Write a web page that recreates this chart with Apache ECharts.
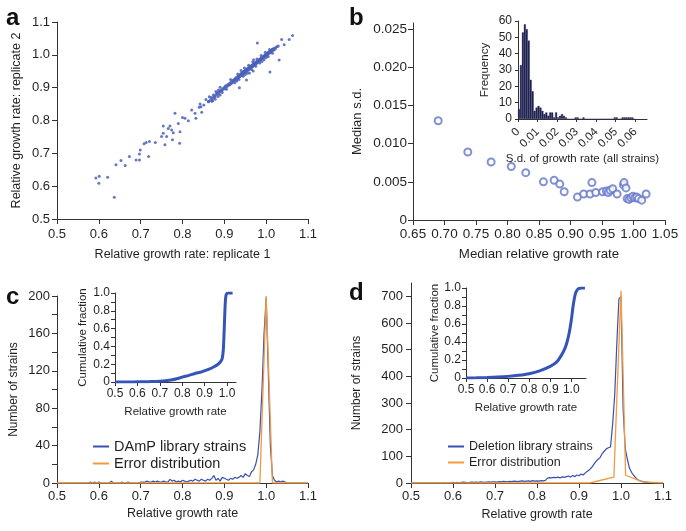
<!DOCTYPE html>
<html><head><meta charset="utf-8">
<script src="https://cdn.jsdelivr.net/npm/echarts@6/dist/echarts.min.js"></script>
<style>html,body{margin:0;padding:0;background:#fff}#c{width:686px;height:531px}</style>
</head><body><div id="c"></div>
<script>
// ---------- Panel a: replicate scatter ----------
const scatterA = [
[0.593,0.625],[0.601,0.630],[0.600,0.609],[0.621,0.627],[0.637,0.566],[0.641,0.665],[0.653,0.678],[0.663,0.663],
[0.673,0.690],[0.689,0.680],[0.697,0.680],[0.697,0.698],[0.699,0.710],[0.708,0.729],[0.713,0.733],[0.719,0.690],
[0.721,0.736],[0.735,0.733],[0.750,0.751],[0.754,0.761],[0.754,0.783],[0.758,0.726],[0.762,0.751],[0.766,0.776],
[0.770,0.783],[0.774,0.771],[0.776,0.741],[0.778,0.763],[0.782,0.822],[0.790,0.791],[0.793,0.731],[0.794,0.766],
[0.800,0.809],[0.806,0.807],[0.814,0.799],[0.822,0.832],[0.830,0.822],[0.832,0.807],[0.840,0.840],[0.842,0.850],
[0.844,0.842],[0.846,0.825],[0.851,0.847],[0.856,0.864],[0.862,0.857],[0.864,0.872],[0.870,0.859],[0.874,0.878],
[0.880,0.888],[0.886,0.893],[0.890,0.901],
[0.936,0.900],[0.953,0.923],[0.979,1.036],[1.009,0.948],[1.031,0.984],[1.037,1.047],[1.043,1.031],[1.055,1.047],
[1.063,1.059],[0.969,0.951],[0.957,0.955],
[0.862,0.858],[0.866,0.862],[0.868,0.870],[0.871,0.866],[0.873,0.869],[0.876,0.874],[0.878,0.872],[0.880,0.879],
[0.882,0.884],[0.884,0.880],[0.886,0.887],[0.888,0.885],[0.890,0.889],[0.892,0.893],[0.894,0.890],[0.896,0.897],
[0.898,0.895],[0.900,0.901],[0.902,0.898],[0.903,0.906],[0.905,0.903],[0.907,0.905],[0.908,0.910],[0.910,0.907],
[0.912,0.913],[0.913,0.909],[0.915,0.916],[0.916,0.912],[0.918,0.919],[0.919,0.915],[0.920,0.922],[0.922,0.918],
[0.923,0.925],[0.924,0.921],[0.926,0.927],[0.927,0.923],[0.928,0.931],[0.929,0.926],[0.931,0.929],[0.932,0.934],
[0.933,0.930],[0.934,0.936],[0.935,0.932],[0.936,0.938],[0.937,0.934],[0.938,0.940],[0.939,0.936],[0.940,0.943],
[0.941,0.938],[0.942,0.945],[0.943,0.940],[0.944,0.947],[0.945,0.942],[0.946,0.949],[0.947,0.944],[0.948,0.951],
[0.949,0.946],[0.950,0.953],[0.951,0.948],[0.952,0.955],[0.953,0.950],[0.954,0.957],[0.955,0.952],[0.956,0.959],
[0.957,0.954],[0.958,0.961],[0.959,0.956],[0.960,0.962],[0.961,0.958],[0.962,0.965],[0.963,0.960],[0.964,0.966],
[0.965,0.962],[0.966,0.968],[0.967,0.964],[0.968,0.970],[0.969,0.966],[0.970,0.972],[0.971,0.968],[0.972,0.974],
[0.973,0.970],[0.974,0.977],[0.975,0.972],[0.976,0.978],[0.977,0.974],[0.978,0.980],[0.979,0.976],[0.980,0.982],
[0.981,0.979],[0.982,0.984],[0.983,0.981],[0.984,0.986],[0.985,0.983],[0.986,0.988],[0.987,0.985],[0.988,0.990],
[0.989,0.987],[0.990,0.992],[0.991,0.989],[0.992,0.994],[0.993,0.991],[0.994,0.996],[0.995,0.993],[0.996,0.998],
[0.997,0.995],[0.998,1.000],[0.999,0.997],[1.000,1.002],[1.001,0.999],[1.002,1.004],[1.003,1.001],[1.004,1.006],
[1.005,1.003],[1.006,1.008],[1.007,1.005],[1.008,1.010],[1.009,1.007],[1.010,1.012],[1.011,1.009],[1.012,1.014],
[1.013,1.011],[1.014,1.016],[1.015,1.013],[1.016,1.018],[1.018,1.015],[1.019,1.020],[1.021,1.017],[1.023,1.022],
[1.026,1.025],[1.029,1.027],
[0.925,0.915],[0.932,0.942],[0.945,0.935],[0.948,0.960],[0.955,0.944],[0.958,0.968],[0.965,0.955],[0.968,0.978],
[0.975,0.965],[0.978,0.987],[0.985,0.975],[0.988,0.998],[0.995,0.985],[0.998,1.008],[1.005,0.995],[1.008,1.016],
[1.015,1.005],[0.960,0.945],[0.970,0.985],[0.990,0.980],[1.000,0.992],[0.930,0.920],[0.940,0.952],[0.950,0.940],
[0.935,0.925],[0.905,0.895],[0.915,0.925],[0.895,0.885],[0.885,0.873],[0.872,0.860],[0.878,0.865],[0.890,0.878]
];

// ---------- Panel b: median s.d. vs median growth ----------
const medianGrowth = [0.690,0.737,0.774,0.806,0.829,0.857,0.874,0.883,0.890,0.911,0.921,0.931,0.934,0.940,0.951,0.957,0.960,0.963,0.967,0.974,0.984,0.985,0.988,0.990,0.993,0.996,0.999,1.002,1.005,1.008,1.013,1.020];
const medianSD     = [0.0130,0.0089,0.0076,0.0070,0.0062,0.0050,0.0052,0.0047,0.0037,0.0030,0.0034,0.0034,0.0049,0.0036,0.0037,0.0038,0.0036,0.0039,0.0041,0.0034,0.0046,0.0049,0.0042,0.0028,0.0027,0.0029,0.0031,0.0029,0.0030,0.0028,0.0026,0.0034];

// inset histogram (bins of width 0.001 starting at 0)
const sdBinStart = 0, sdBinWidth = 0.001;
const sdFreq = [6,33,53,58,55,48,24,17,5,7,8,7,5, 3,4,2,4,4,1,4,1,2,3,2,1, 0,0,0,0, 1,1,0,0,1,0, 0,0,0,0,0,0,0,0,0,0,0,0,0,0, 1,1,0,0, 1,1,1,1,1,1, 0];
const sdTicks = [0,0.01,0.02,0.03,0.04,0.05,0.06];

// ---------- Panel c: DAmP library ----------
const histBinStart = 0.5, histBinWidth = 0.005;
const dampCounts = [
0,0,0,0,0,0,0,0,0,0,0,0,0,0,0, 0,1,0,1,0, 1,0,0,0,0,0,2,0,0,0, 0,1,0,0,1,0,0,0,0,0,
1,1,1,2,1,1,2,1,2,1, 1,2,1,1,4,2,3,1,2,1, 3,2,1,2,3,2,4,3,2,4, 3,2,4,3,5,8,3,5,2,6,
5,4,3,5,4,6,5,6,8,6, 10,8,7,12,14,20,30,55,100,160, 198,120,40,8,3,1,2,1,2,1, 0,0,0,0,0,0,0,0,0,0, 0
];
const errorC = [[0.5,0],[0.985,0],[1.0,200],[1.015,0],[1.1,0]];
const cumC = [[0.5,0],[0.55,0],[0.6,0.002],[0.65,0.004],[0.7,0.008],[0.75,0.022],[0.78,0.04],[0.8,0.055],[0.83,0.075],[0.86,0.098],[0.88,0.11],[0.9,0.127],[0.92,0.145],[0.94,0.168],[0.96,0.2],[0.97,0.225],[0.978,0.26],[0.983,0.35],[0.986,0.5],[0.989,0.7],[0.992,0.88],[0.995,0.97],[1.0,0.995],[1.01,1.0],[1.025,1.0]];

// ---------- Panel d: deletion library ----------
const deletionCounts = [
0,1,0,1,0,1,0,1,1,0,1,0,1,1,0,1,1,0,1,1,
2,1,2,1,2,3,2,1,2,3,2,3,2,4,3,2,3,4,3,4,
4,3,5,4,6,5,4,6,5,7,6,5,7,8,6,7,8,6,9,7,
8,7,9,8,10,18,20,19,21,20,22,19,23,21,24,26,22,28,24,30,
27,34,30,38,44,50,58,69,80,88,95,110,119,128,132,135,219,330,520,690,
700,280,130,90,56,40,29,20,12,8,6,4,3,2,1,1,0,0,0,0,
0
];
const errorD = [[0.5,0],[0.925,0],[0.983,22],[1.0,721],[1.011,29],[1.052,4],[1.1,0]];
const cumD = [[0.5,0],[0.55,0.002],[0.6,0.005],[0.65,0.01],[0.7,0.018],[0.75,0.03],[0.8,0.048],[0.85,0.08],[0.9,0.13],[0.93,0.176],[0.95,0.24],[0.97,0.33],[0.98,0.4],[0.99,0.5],[1.0,0.64],[1.005,0.73],[1.01,0.82],[1.02,0.94],[1.03,0.985],[1.04,0.997],[1.05,1.0],[1.065,1.0]];

// tick values
const ticksA = [0.5,0.6,0.7,0.8,0.9,1.0,1.1];
const ticksBx = [0.65,0.70,0.75,0.80,0.85,0.90,0.95,1.00,1.05];
const ticksBy = [0,0.005,0.010,0.015,0.020,0.025];
const freqTicks = [0,10,20,30,40,50,60];
const ticksCy = [0,40,80,120,160,200];
const minorCy = [0,20,40,60,80,100,120,140,160,180,200];
const ticksDy = [0,100,200,300,400,500,600,700];
const cumTicks = [0,0.2,0.4,0.6,0.8,1.0];
const cumMinor = [0,0.1,0.2,0.3,0.4,0.5,0.6,0.7,0.8,0.9,1.0];
const cumX = [0.5,0.6,0.7,0.8,0.9,1.0];

// ---------- build ----------
const FONT = 'Liberation Sans, Arial, Helvetica, sans-serif';
const TXT = '#231f20';
const BLUE = '#3a4fb0';
const ORANGE = '#f39a3c';
const toPairs = (start, w, arr) => arr.map((v, i) => [+(start + i * w).toFixed(4), v]);

function axis(o) {
  return {
    type: 'value', gridIndex: o.g, min: o.min, max: o.max,
    axisLine: { show: true, lineStyle: { color: '#333', width: 1 } },
    axisTick: { show: true, length: o.tl || 5, lineStyle: { color: '#333' }, customValues: o.tv || o.lv },
    axisLabel: { customValues: o.lv, color: TXT, fontFamily: FONT, fontSize: o.fs || 13, margin: o.m || 7,
      formatter: o.fmt, rotate: o.rot || 0 },
    splitLine: { show: false },
    name: o.name, nameLocation: 'middle', nameGap: o.ng,
    nameTextStyle: { color: TXT, fontFamily: FONT, fontSize: o.nfs || 12.5 }
  };
}
const f1 = v => v.toFixed(1);
const f2 = v => v.toFixed(2);
const f0or1 = v => v === 0 ? '0' : v.toFixed(1);
const fsd = v => v === 0 ? '0' : v.toFixed(3);
const fsd2 = v => v === 0 ? '0' : v.toFixed(2);

const option = {
  animation: false,
  backgroundColor: '#fff',
  grid: [
    { left: 57, top: 22, width: 251, height: 197 },
    { left: 413, top: 23, width: 252, height: 197 },
    { left: 518, top: 21, width: 129, height: 98 },
    { left: 57, top: 296, width: 251, height: 187 },
    { left: 115, top: 293, width: 121, height: 89 },
    { left: 411, top: 283, width: 252, height: 200 },
    { left: 466, top: 288, width: 120, height: 90 }
  ],
  xAxis: [
    axis({ g: 0, min: 0.5, max: 1.1, lv: ticksA, fmt: f1, name: 'Relative growth rate: replicate 1', ng: 29, m: 9 }),
    axis({ g: 1, min: 0.65, max: 1.05, lv: ticksBx, fmt: f2, fs: 13.5, name: 'Median relative growth rate', ng: 28, m: 7, nfs: 13.3 }),
    axis({ g: 2, min: 0, max: 0.066, lv: sdTicks, fmt: fsd2, rot: 45, fs: 11.5, tl: 3, m: 11, name: 'S.d. of growth rate (all strains)', ng: 30, nfs: 11.5 }),
    axis({ g: 3, min: 0.5, max: 1.1, lv: ticksA, fmt: f1, name: 'Relative growth rate', ng: 24, m: 7 }),
    axis({ g: 4, min: 0.5, max: 1.04, lv: cumX, fmt: f1, fs: 12, tl: 4, m: 6, name: 'Relative growth rate', ng: 24, nfs: 11.5 }),
    axis({ g: 5, min: 0.5, max: 1.1, lv: ticksA, fmt: f1, name: 'Relative growth rate', ng: 25, m: 7 }),
    axis({ g: 6, min: 0.5, max: 1.07, lv: cumX, fmt: f1, fs: 12, tl: 4, m: 6, name: 'Relative growth rate', ng: 24, nfs: 11.5 })
  ],
  yAxis: [
    axis({ g: 0, min: 0.5, max: 1.1, lv: ticksA, fmt: f1, name: 'Relative growth rate: replicate 2', ng: 34, m: 7 }),
    axis({ g: 1, min: 0, max: 0.0258, lv: ticksBy, fmt: fsd, fs: 13.5, name: 'Median s.d.', ng: 49, m: 6, nfs: 13 }),
    axis({ g: 2, min: 0, max: 60, lv: freqTicks, fmt: v => String(v), fs: 12, tl: 3, m: 6, name: 'Frequency', ng: 27, nfs: 11.5 }),
    axis({ g: 3, min: 0, max: 200, lv: ticksCy, tv: minorCy, fmt: v => String(v), name: 'Number of strains', ng: 37, m: 7, nfs: 12 }),
    axis({ g: 4, min: 0, max: 1, lv: cumTicks, tv: cumMinor, fmt: f0or1, fs: 12, tl: 4, m: 5, name: 'Cumulative fraction', ng: 26, nfs: 11.5 }),
    axis({ g: 5, min: 0, max: 750, lv: ticksDy, fmt: v => String(v), name: 'Number of strains', ng: 48, m: 8, nfs: 12 }),
    axis({ g: 6, min: 0, max: 1, lv: cumTicks, tv: cumMinor, fmt: f0or1, fs: 12, tl: 4, m: 5, name: 'Cumulative fraction', ng: 25, nfs: 11.5 })
  ],
  legend: [
    { orient: 'vertical', left: 88, top: 434, itemGap: 2, itemWidth: 16, itemHeight: 2, icon: 'rect',
      data: ['DAmP library strains', 'Error distribution'], textStyle: { color: TXT, fontFamily: FONT, fontSize: 14.5 }, selectedMode: false },
    { orient: 'vertical', left: 443, top: 435, itemGap: 3, itemWidth: 16, itemHeight: 2, icon: 'rect',
      data: ['Deletion library strains', 'Error distribution'], textStyle: { color: TXT, fontFamily: FONT, fontSize: 12.5 }, selectedMode: false }
  ],
  series: [
    { type: 'scatter', xAxisIndex: 0, yAxisIndex: 0, data: scatterA, symbol: 'circle', symbolSize: 3,
      itemStyle: { color: '#4a62b8', opacity: 0.85 } },
    { type: 'scatter', xAxisIndex: 1, yAxisIndex: 1, data: medianGrowth.map((x, i) => [x, medianSD[i]]),
      symbol: 'emptyCircle', symbolSize: 7, itemStyle: { color: '#6475c9', borderWidth: 0.7 } },
    { type: 'bar', xAxisIndex: 2, yAxisIndex: 2, data: toPairs(sdBinStart + sdBinWidth / 2, sdBinWidth, sdFreq),
      barWidth: 2, itemStyle: { color: '#1f2150', borderColor: '#2e3160', borderWidth: 0.3 } },
    { name: 'DAmP library strains', type: 'line', xAxisIndex: 3, yAxisIndex: 3, data: toPairs(histBinStart, histBinWidth, dampCounts),
      showSymbol: false, symbol: 'none', lineStyle: { color: BLUE, width: 1.2 }, itemStyle: { color: BLUE } },
    { name: 'Error distribution', type: 'line', xAxisIndex: 3, yAxisIndex: 3, data: errorC,
      showSymbol: false, symbol: 'none', lineStyle: { color: ORANGE, width: 1.3 }, itemStyle: { color: ORANGE } },
    { type: 'line', xAxisIndex: 4, yAxisIndex: 4, data: cumC, smooth: 0.3, showSymbol: false, symbol: 'none',
      lineStyle: { color: '#3553b8', width: 3 } },
    { name: 'Deletion library strains', type: 'line', xAxisIndex: 5, yAxisIndex: 5, data: toPairs(histBinStart, histBinWidth, deletionCounts),
      showSymbol: false, symbol: 'none', lineStyle: { color: BLUE, width: 1.2 }, itemStyle: { color: BLUE } },
    { name: 'Error distribution', type: 'line', xAxisIndex: 5, yAxisIndex: 5, data: errorD,
      showSymbol: false, symbol: 'none', lineStyle: { color: ORANGE, width: 1.3 }, itemStyle: { color: ORANGE } },
    { type: 'line', xAxisIndex: 6, yAxisIndex: 6, data: cumD, smooth: 0.3, showSymbol: false, symbol: 'none',
      lineStyle: { color: '#3553b8', width: 3 } }
  ],
  graphic: [
    { type: 'text', left: 6, top: 6, style: { text: 'a', font: 'bold 24px ' + FONT, fill: '#111' } },
    { type: 'text', left: 349, top: 6, style: { text: 'b', font: 'bold 24px ' + FONT, fill: '#111' } },
    { type: 'text', left: 6, top: 285, style: { text: 'c', font: 'bold 24px ' + FONT, fill: '#111' } },
    { type: 'text', left: 349, top: 281, style: { text: 'd', font: 'bold 24px ' + FONT, fill: '#111' } }
  ]
};
const chart = echarts.init(document.getElementById('c'), null, { renderer: 'canvas' });
chart.setOption(option);
</script>
</body></html>
